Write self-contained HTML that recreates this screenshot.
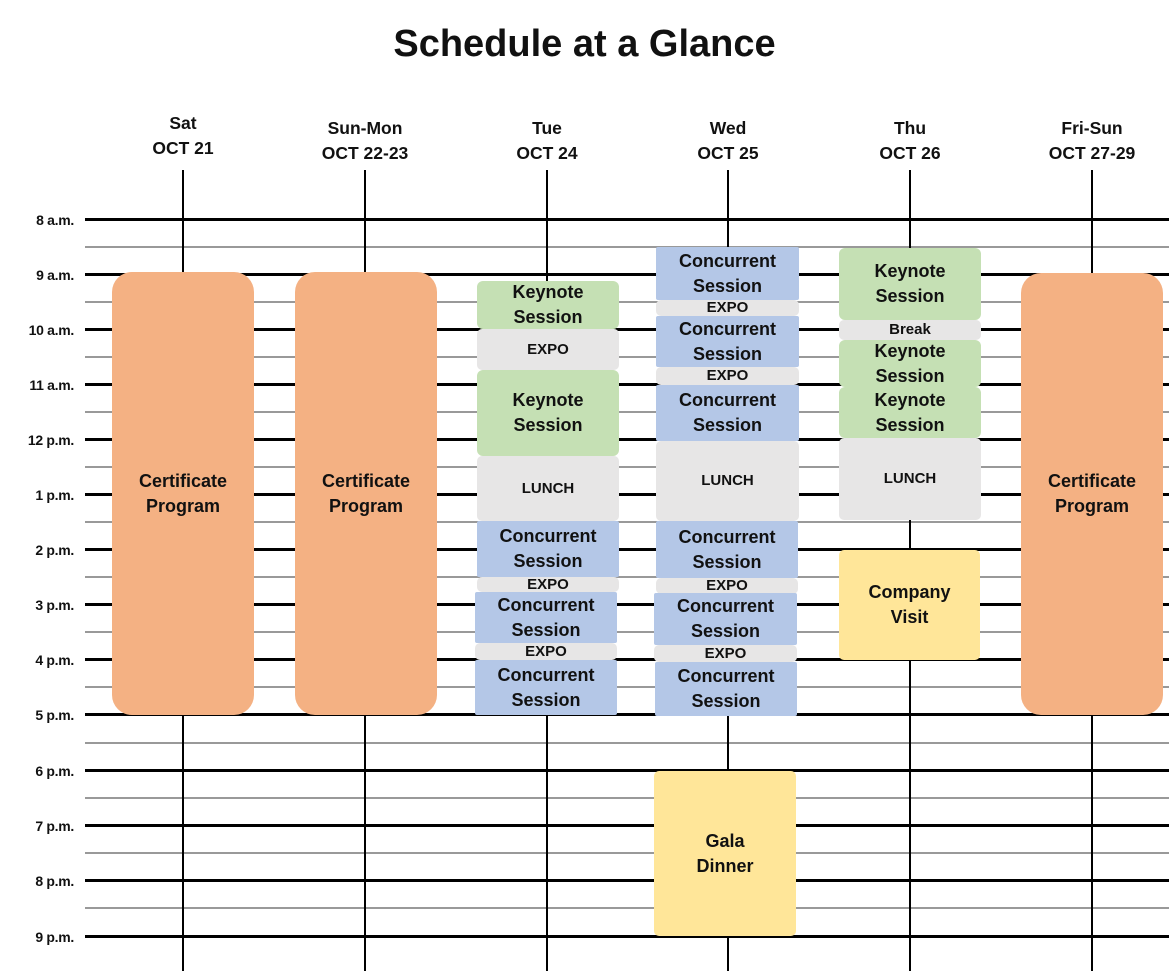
<!DOCTYPE html>
<html><head><meta charset="utf-8"><style>
body{margin:0;width:1169px;height:971px;background:#fff;position:relative;overflow:hidden;font-family:"Liberation Sans",sans-serif;font-weight:bold;color:#111}
div{position:absolute;box-sizing:border-box}
.h{left:85px;width:1084px;height:3px;background:#000}
.s{left:85px;width:1084px;height:2px;background:#999}
.v{top:170px;bottom:0;width:2px;background:#000}
.t{left:0;width:74px;text-align:right;font-size:14px;line-height:16px;letter-spacing:-0.3px}
.hd{width:160px;text-align:center;font-size:17.5px;line-height:25px;top:111px}
.b{display:flex;align-items:center;justify-content:center;text-align:center;font-size:18px;line-height:25px}
.o{background:#F4B183;border-radius:20px;font-size:18px}
.g{background:#C5E0B4;border-radius:6px}
.e{background:#E7E6E6;border-radius:5px;font-size:15px;line-height:16px}
.c{background:#B4C7E7;border-radius:2px}
.y{background:#FFE699;border-radius:5px}
</style></head><body>
<div style="left:0;width:1169px;top:20px;text-align:center;font-size:38px;line-height:48px">Schedule at a Glance</div>
<div class="hd" style="left:103px">Sat<br>OCT 21</div>
<div class="hd" style="left:285px;top:116px">Sun-Mon<br>OCT 22-23</div>
<div class="hd" style="left:467px;top:116px">Tue<br>OCT 24</div>
<div class="hd" style="left:648px;top:116px">Wed<br>OCT 25</div>
<div class="hd" style="left:830px;top:116px">Thu<br>OCT 26</div>
<div class="hd" style="left:1012px;top:116px">Fri-Sun<br>OCT 27-29</div>

<div class="h" style="top:218px"></div><div class="s" style="top:246px"></div>
<div class="h" style="top:273px"></div><div class="s" style="top:301px"></div>
<div class="h" style="top:328px"></div><div class="s" style="top:356px"></div>
<div class="h" style="top:383px"></div><div class="s" style="top:411px"></div>
<div class="h" style="top:438px"></div><div class="s" style="top:466px"></div>
<div class="h" style="top:493px"></div><div class="s" style="top:521px"></div>
<div class="h" style="top:548px"></div><div class="s" style="top:576px"></div>
<div class="h" style="top:603px"></div><div class="s" style="top:631px"></div>
<div class="h" style="top:658px"></div><div class="s" style="top:686px"></div>
<div class="h" style="top:713px"></div><div class="s" style="top:742px"></div>
<div class="h" style="top:769px"></div><div class="s" style="top:797px"></div>
<div class="h" style="top:824px"></div><div class="s" style="top:852px"></div>
<div class="h" style="top:879px"></div><div class="s" style="top:907px"></div>
<div class="h" style="top:935px"></div>

<div class="t" style="top:212px">8 a.m.</div>
<div class="t" style="top:267px">9 a.m.</div>
<div class="t" style="top:322px">10 a.m.</div>
<div class="t" style="top:377px">11 a.m.</div>
<div class="t" style="top:432px">12 p.m.</div>
<div class="t" style="top:487px">1 p.m.</div>
<div class="t" style="top:542px">2 p.m.</div>
<div class="t" style="top:597px">3 p.m.</div>
<div class="t" style="top:652px">4 p.m.</div>
<div class="t" style="top:707px">5 p.m.</div>
<div class="t" style="top:763px">6 p.m.</div>
<div class="t" style="top:818px">7 p.m.</div>
<div class="t" style="top:873px">8 p.m.</div>
<div class="t" style="top:929px">9 p.m.</div>

<div class="v" style="left:182px"></div>
<div class="v" style="left:364px"></div>
<div class="v" style="left:546px"></div>
<div class="v" style="left:727px"></div>
<div class="v" style="left:909px"></div>
<div class="v" style="left:1091px"></div>

<div class="b o" style="left:112px;width:142px;top:272px;height:443px">Certificate<br>Program</div>
<div class="b o" style="left:295px;width:142px;top:272px;height:443px">Certificate<br>Program</div>
<div class="b o" style="left:1021px;width:142px;top:273px;height:442px">Certificate<br>Program</div>

<!-- Tue -->
<div class="b g" style="left:477px;width:142px;top:281px;height:48px">Keynote<br>Session</div>
<div class="b e" style="left:477px;width:142px;top:329px;height:41px">EXPO</div>
<div class="b g" style="left:477px;width:142px;top:370px;height:86px">Keynote<br>Session</div>
<div class="b e" style="left:477px;width:142px;top:456px;height:65px">LUNCH</div>
<div class="b c" style="left:477px;width:142px;top:521px;height:56px">Concurrent<br>Session</div>
<div class="b e" style="left:477px;width:142px;top:577px;height:15px">EXPO</div>
<div class="b c" style="left:475px;width:142px;top:592px;height:51px">Concurrent<br>Session</div>
<div class="b e" style="left:475px;width:142px;top:643px;height:17px">EXPO</div>
<div class="b c" style="left:475px;width:142px;top:660px;height:55px">Concurrent<br>Session</div>

<!-- Wed -->
<div class="b c" style="left:656px;width:143px;top:247px;height:53px">Concurrent<br>Session</div>
<div class="b e" style="left:656px;width:143px;top:300px;height:16px">EXPO</div>
<div class="b c" style="left:656px;width:143px;top:316px;height:51px">Concurrent<br>Session</div>
<div class="b e" style="left:656px;width:143px;top:367px;height:18px">EXPO</div>
<div class="b c" style="left:656px;width:143px;top:385px;height:56px">Concurrent<br>Session</div>
<div class="b e" style="left:656px;width:143px;top:441px;height:80px">LUNCH</div>
<div class="b c" style="left:656px;width:142px;top:521px;height:57px">Concurrent<br>Session</div>
<div class="b e" style="left:656px;width:142px;top:578px;height:16px">EXPO</div>
<div class="b c" style="left:654px;width:143px;top:593px;height:52px">Concurrent<br>Session</div>
<div class="b e" style="left:654px;width:143px;top:645px;height:17px">EXPO</div>
<div class="b c" style="left:655px;width:142px;top:662px;height:54px">Concurrent<br>Session</div>
<div class="b y" style="left:654px;width:142px;top:771px;height:165px">Gala<br>Dinner</div>

<!-- Thu -->
<div class="b g" style="left:839px;width:142px;top:248px;height:72px">Keynote<br>Session</div>
<div class="b e" style="left:839px;width:142px;top:320px;height:20px">Break</div>
<div class="b g" style="left:839px;width:142px;top:340px;height:47px">Keynote<br>Session</div>
<div class="b g" style="left:839px;width:142px;top:387px;height:51px">Keynote<br>Session</div>
<div class="b e" style="left:839px;width:142px;top:438px;height:82px">LUNCH</div>
<div class="b y" style="left:839px;width:141px;top:550px;height:110px">Company<br>Visit</div>
</body></html>
